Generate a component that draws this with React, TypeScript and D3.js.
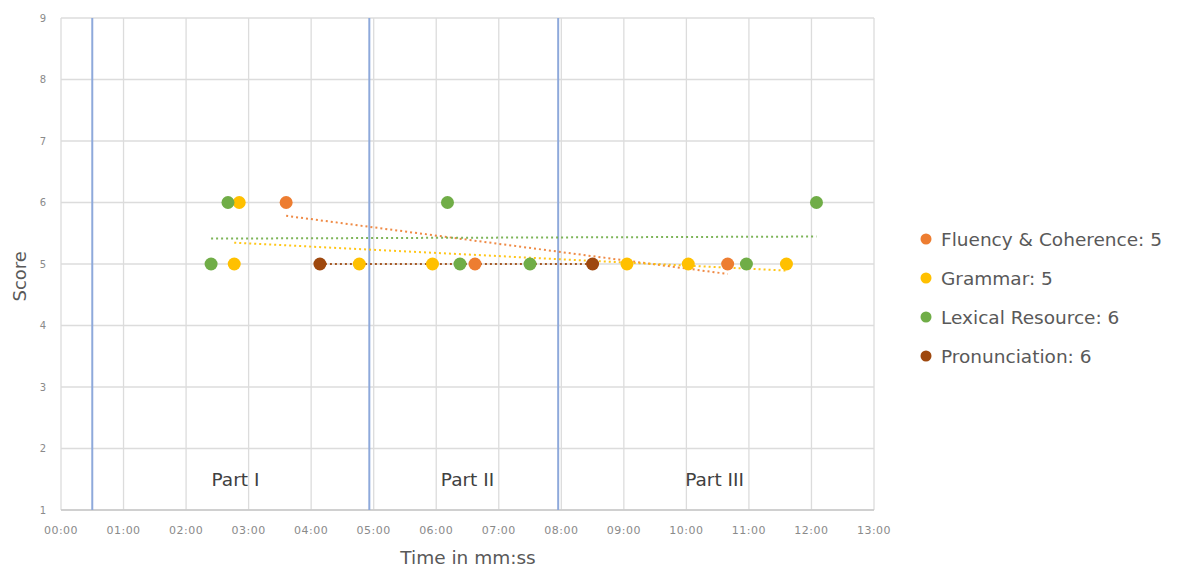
import React from "react";
import * as d3 from "d3";

const xTicks = [0,1,2,3,4,5,6,7,8,9,10,11,12,13];
const yTicks = [1,2,3,4,5,6,7,8,9];
const partDividers = [0.5, 4.93, 7.95];
const partLabels = ["Part I", "Part II", "Part III"];
const partLabelX = [2.79, 6.5, 10.45];

const fluencyX = [3.6, 6.62, 10.66];
const fluencyY = [6, 5, 5];
const grammarX = [2.85, 2.77, 4.77, 5.94, 9.05, 10.03, 11.6];
const grammarY = [6, 5, 5, 5, 5, 5, 5];
const lexicalX = [2.4, 2.67, 6.18, 6.38, 7.5, 10.96, 12.08];
const lexicalY = [5, 6, 6, 5, 5, 5, 6];
const pronX = [4.14, 8.5];
const pronY = [5, 5];

const seriesNames = ["Fluency & Coherence: 5", "Grammar: 5", "Lexical Resource: 6", "Pronunciation: 6"];
const seriesColors = ["#ED7D31", "#FFC000", "#70AD47", "#9E480E"];

const series = [
  { name: seriesNames[0], color: seriesColors[0], xs: fluencyX, ys: fluencyY },
  { name: seriesNames[1], color: seriesColors[1], xs: grammarX, ys: grammarY },
  { name: seriesNames[2], color: seriesColors[2], xs: lexicalX, ys: lexicalY },
  { name: seriesNames[3], color: seriesColors[3], xs: pronX, ys: pronY },
];

function fmt(m: number) {
  return String(m).padStart(2, "0") + ":00";
}

function regression(xs: number[], ys: number[]) {
  const mx = d3.mean(xs)!;
  const my = d3.mean(ys)!;
  let sxy = 0, sxx = 0;
  xs.forEach((x, i) => { sxy += (x - mx) * (ys[i] - my); sxx += (x - mx) ** 2; });
  const b = sxx === 0 ? 0 : sxy / sxx;
  const a = my - b * mx;
  const x0 = d3.min(xs)!, x1 = d3.max(xs)!;
  return [[x0, a + b * x0], [x1, a + b * x1]];
}

export default function App() {
  const W = 1179, H = 579;
  const left = 61, right = 874, top = 18, bottom = 510;
  const x = d3.scaleLinear().domain([0, 13]).range([left, right]);
  const y = d3.scaleLinear().domain([1, 9]).range([bottom, top]);
  const font = "'DejaVu Sans', sans-serif";
  const line = d3.line<number[]>().x(d => x(d[0])).y(d => y(d[1]));

  return (
    <svg width={W} height={H} style={{ position: "absolute", left: 0, top: 0, background: "#fff" }} fontFamily={font}>
      {yTicks.map(t => (
        <line key={"gy" + t} x1={left} x2={right} y1={y(t)} y2={y(t)} stroke="#dcdcdc" strokeWidth={1.3} />
      ))}
      {xTicks.map(t => (
        <line key={"gx" + t} x1={x(t)} x2={x(t)} y1={top} y2={bottom} stroke="#dcdcdc" strokeWidth={1.3} />
      ))}
      <line x1={left} x2={right} y1={bottom} y2={bottom} stroke="#c8c8c8" strokeWidth={1.5} />
      {partDividers.map((p, i) => (
        <line key={"pd" + i} x1={x(p)} x2={x(p)} y1={top} y2={bottom} stroke="#8EA9DB" strokeWidth={2} />
      ))}
      {yTicks.map(t => (
        <text key={"ty" + t} x={46} y={y(t)} dy="0.35em" textAnchor="end" fontSize={10} fill="#8a8a8a">{t}</text>
      ))}
      {xTicks.map(t => (
        <text key={"tx" + t} x={x(t)} y={534} textAnchor="middle" fontSize={11} letterSpacing={0.5} fill="#8a8a8a">{fmt(t)}</text>
      ))}
      <text x={468} y={564} textAnchor="middle" fontSize={18.5} fill="#595959">Time in mm:ss</text>
      <text transform={`translate(26, ${y(4.8)}) rotate(-90)`} textAnchor="middle" fontSize={18} fill="#595959">Score</text>
      {partLabels.map((l, i) => (
        <text key={"pl" + i} x={x(partLabelX[i])} y={486} textAnchor="middle" fontSize={18.5} fill="#404040">{l}</text>
      ))}
      {series.map((s, i) => (
        <path key={"tr" + i} d={line(regression(s.xs, s.ys))!} fill="none" stroke={s.color} strokeWidth={2} strokeDasharray="2,3" opacity={0.9} />
      ))}
      {series.map((s, i) => (
        <g key={"pts" + i}>
          {s.xs.map((xv, j) => (
            <circle key={j} cx={x(xv)} cy={y(s.ys[j])} r={6.5} fill={s.color} />
          ))}
        </g>
      ))}
      {series.map((s, i) => (
        <g key={"lg" + i} transform={`translate(926, ${239 + i * 39})`}>
          <circle cx={0} cy={0} r={5.5} fill={s.color} />
          <text x={15} y={0} dy="0.36em" fontSize={18.5} fill="#595959">{s.name}</text>
        </g>
      ))}
    </svg>
  );
}
